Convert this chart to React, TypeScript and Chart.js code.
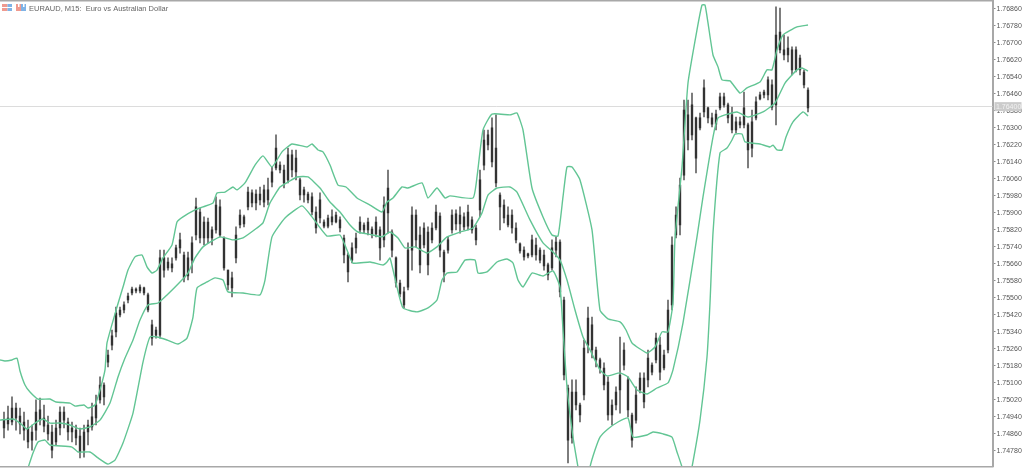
import { useEffect, useRef } from "react";
import { Chart, registerables } from "chart.js";

Chart.register(...registerables);

const POINT = 100000;
const symbolTitle = "EURAUD, M15:  Euro vs Australian Dollar";
const currentPrice = 1.764;
const yTicks = [
  1.7686, 1.7678, 1.767, 1.7662, 1.7654, 1.7646, 1.7638, 1.763, 1.7622, 1.7614, 1.7606, 1.7598, 1.759, 1.7582,
  1.7574, 1.7566, 1.7558, 1.755, 1.7542, 1.7534, 1.7526, 1.7518, 1.751, 1.7502, 1.7494, 1.7486, 1.7478,
];

const highs = [
  174963, 174991, 175034, 175005, 174982, 174963, 174925, 174902, 175020, 175029,
  174996, 174944, 174902, 174925, 174987, 174987, 174935, 174916, 174902, 174888,
  174902, 174925, 175005, 175043, 175128, 175100, 175255, 175349, 175457, 175457,
  175481, 175523, 175551, 175547, 175561, 175551, 175523, 175396, 175363, 175725,
  175725, 175688, 175688, 175749, 175805, 175716, 175716, 175787, 175970, 175923,
  175881, 175876, 175834, 175975, 175961, 175787, 175631, 175622, 175834, 175914,
  175890, 176022, 176008, 176008, 176022, 176031, 176064, 176116, 176267, 176140,
  176125, 176205, 176196, 176196, 176064, 176022, 175998, 175994, 175928, 175994,
  175867, 175890, 175914, 175904, 175881, 175796, 175711, 175759, 175805, 175881,
  175853, 175876, 175834, 175881, 175834, 175975, 176102, 175820, 175693, 175584,
  175551, 175759, 175928, 175914, 175834, 175853, 175834, 175853, 175937, 175900,
  175725, 175787, 175914, 175914, 175928, 175900, 175937, 175881, 175843, 176102,
  176290, 176290, 176347, 176361, 175994, 175961, 175928, 175914, 175853, 175759,
  175740, 175711, 175796, 175782, 175735, 175725, 175664, 175773, 175787, 175773,
  175504, 175090, 175114, 175114, 175005, 175302, 175457, 175410, 175269, 175217,
  175194, 175128, 175020, 175081, 175316, 175288, 175128, 174958, 175081, 175147,
  175147, 175255, 175194, 175335, 175316, 175255, 175490, 175787, 175928, 176064,
  176431, 176431, 176464, 176351, 176370, 176526, 176398, 176370, 176384, 176464,
  176464, 176417, 176398, 176351, 176351, 176469, 176323, 176384, 176446, 176469,
  176478, 176540, 176526, 176869, 176864, 176737, 176728, 176681, 176681, 176643,
  176573, 176488,
];
const lows = [
  174841, 174878, 174902, 174878, 174860, 174831, 174794, 174784, 174831, 174902,
  174869, 174831, 174747, 174808, 174855, 174888, 174831, 174822, 174808, 174747,
  174751, 174808, 174878, 174902, 175005, 174996, 175175, 175255, 175316, 175410,
  175429, 175476, 175514, 175523, 175523, 175514, 175434, 175278, 175311, 175311,
  175598, 175631, 175622, 175678, 175711, 175575, 175584, 175617, 175773, 175759,
  175749, 175759, 175749, 175805, 175787, 175631, 175537, 175504, 175664, 175829,
  175834, 175914, 175928, 175914, 175937, 175928, 175937, 176022, 176102, 176088,
  176017, 176041, 176069, 176055, 175961, 175951, 175947, 175890, 175805, 175853,
  175829, 175829, 175843, 175853, 175810, 175664, 175575, 175664, 175711, 175805,
  175805, 175796, 175782, 175787, 175678, 175740, 175805, 175693, 175551, 175504,
  175453, 175537, 175631, 175740, 175617, 175735, 175608, 175759, 175820, 175693,
  175575, 175711, 175805, 175820, 175805, 175820, 175820, 175805, 175749, 175881,
  176102, 176196, 176116, 176022, 175820, 175853, 175834, 175805, 175759, 175711,
  175678, 175688, 175693, 175678, 175664, 175631, 175584, 175631, 175693, 175504,
  175114, 174723, 174817, 174973, 174916, 175020, 175241, 175217, 175175, 175146,
  175067, 174925, 174902, 174973, 174958, 175161, 174940, 174798, 174911, 175053,
  174982, 175081, 175137, 175194, 175114, 175161, 175241, 175443, 175782, 175796,
  176055, 176196, 176243, 176088, 176290, 176351, 176323, 176304, 176290, 176384,
  176398, 176323, 176276, 176276, 176300, 176300, 176111, 176163, 176337, 176431,
  176441, 176431, 176384, 176314, 176653, 176620, 176610, 176549, 176563, 176549,
  176488, 176375,
];
const opens = [
  174888, 174935, 174916, 174982, 174944, 174916, 174888, 174831, 174878, 174973,
  174935, 174902, 174869, 174822, 174888, 174963, 174916, 174869, 174878, 174850,
  174784, 174869, 174893, 174935, 175020, 175090, 175198, 175278, 175340, 175420,
  175443, 175490, 175523, 175542, 175533, 175547, 175514, 175373, 175325, 175325,
  175688, 175641, 175660, 175688, 175735, 175702, 175603, 175678, 175796, 175904,
  175782, 175857, 175782, 175820, 175928, 175782, 175631, 175547, 175688, 175843,
  175881, 175928, 175994, 175947, 175989, 175951, 176008, 176045, 176111, 176125,
  176102, 176055, 176173, 176093, 176055, 175984, 175989, 175975, 175904, 175876,
  175857, 175838, 175881, 175857, 175867, 175782, 175702, 175678, 175735, 175820,
  175843, 175820, 175824, 175801, 175820, 175773, 176017, 175810, 175688, 175570,
  175528, 175551, 175725, 175890, 175796, 175749, 175810, 175773, 175829, 175885,
  175716, 175725, 175820, 175895, 175848, 175881, 175838, 175867, 175829, 175914,
  176125, 176220, 176300, 176205, 175984, 175937, 175890, 175890, 175829, 175754,
  175725, 175707, 175702, 175749, 175725, 175702, 175655, 175641, 175725, 175763,
  175490, 175076, 174841, 175057, 174996, 175043, 175278, 175373, 175255, 175208,
  175170, 175104, 174949, 174996, 175067, 175255, 175114, 174949, 174925, 175067,
  175123, 175114, 175184, 175208, 175278, 175170, 175255, 175467, 175796, 175843,
  176078, 176361, 176267, 176347, 176300, 176375, 176394, 176347, 176318, 176394,
  176446, 176408, 176361, 176290, 176328, 176314, 176314, 176205, 176347, 176436,
  176455, 176455, 176502, 176408, 176751, 176667, 176643, 176667, 176573, 176629,
  176563, 176478,
];
const closes = [
  174925, 174907, 174982, 174935, 174907, 174878, 174822, 174869, 174963, 174925,
  174897, 174860, 174784, 174888, 174963, 174925, 174869, 174888, 174841, 174775,
  174869, 174902, 174940, 174996, 175090, 175034, 175231, 175321, 175429, 175443,
  175467, 175509, 175542, 175533, 175551, 175523, 175443, 175311, 175349, 175688,
  175631, 175669, 175641, 175735, 175773, 175594, 175688, 175759, 175928, 175782,
  175857, 175782, 175820, 175937, 175796, 175641, 175561, 175594, 175796, 175890,
  175848, 175998, 175947, 175989, 175961, 176008, 175961, 176093, 176205, 176102,
  176041, 176173, 176102, 176158, 175984, 176008, 175961, 175904, 175829, 175961,
  175838, 175876, 175857, 175890, 175829, 175702, 175622, 175735, 175782, 175857,
  175820, 175857, 175801, 175857, 175735, 175937, 175900, 175725, 175570, 175519,
  175467, 175725, 175890, 175773, 175655, 175829, 175655, 175829, 175904, 175725,
  175622, 175773, 175890, 175848, 175890, 175834, 175904, 175820, 175773, 176055,
  176243, 176267, 176140, 176041, 175928, 175876, 175843, 175829, 175773, 175721,
  175693, 175697, 175773, 175702, 175678, 175650, 175608, 175735, 175763, 175528,
  175137, 174831, 175057, 174996, 174949, 175264, 175405, 175255, 175208, 175170,
  175090, 174949, 174996, 175057, 175137, 175184, 174973, 174831, 175043, 175123,
  175010, 175217, 175151, 175311, 175151, 175231, 175443, 175749, 175890, 176031,
  176384, 176243, 176408, 176158, 176347, 176488, 176347, 176318, 176365, 176446,
  176408, 176347, 176290, 176328, 176314, 176394, 176196, 176328, 176422, 176455,
  176469, 176526, 176398, 176737, 176667, 176643, 176676, 176573, 176667, 176573,
  176502, 176394,
];

const upperBand: number[][] = [
  [-1, 175208], [0.25, 175203], [2, 175208], [3.25, 175217], [4, 175156], [5.25, 175090], [6.5, 175057], [8.5, 175024],
  [11.5, 175024], [13, 175010], [16.5, 175005], [17.75, 174991], [20, 174996], [21, 174982], [22.75, 174996], [24, 175067],
  [25.25, 175161], [25.75, 175288], [28.25, 175457], [29.75, 175551], [31, 175631], [32.75, 175693], [34.5, 175702],
  [35.75, 175646], [37, 175617], [38.25, 175631], [39.75, 175688], [42, 175749], [43.25, 175857], [44.75, 175881],
  [47.75, 175914], [49.75, 175928], [52.25, 175947], [53.25, 175994], [55.25, 175998], [57.25, 176022], [58.25, 176008],
  [60.25, 176041], [62.75, 176125], [64.75, 176168], [67, 176116], [69.5, 176187], [72, 176224], [75.75, 176210], [77, 176224],
  [78.5, 176196], [79.75, 176187], [81.5, 176125], [83.5, 176031], [85.5, 176022], [88.25, 175970], [91.5, 175937],
  [94.5, 175904], [95.75, 175951], [97.25, 175970], [99.5, 176022], [101, 176017], [104.5, 176041], [106, 175970],
  [108.25, 176017], [110.25, 175970], [111.5, 175980], [117.25, 175970], [118.25, 176069], [119.75, 176290], [122, 176365],
  [126.5, 176361], [128.25, 176370], [129.75, 176290], [132, 176017], [134.75, 175881], [137, 175796], [138.5, 175791],
  [139.75, 175975], [140.75, 176116], [142, 176116], [144, 176055], [147, 175820], [149, 175443], [151, 175401], [154, 175387],
  [155.5, 175349], [157, 175288], [160.75, 175241], [162.75, 175269], [164.5, 175340], [166, 175340], [167.25, 175476],
  [167.75, 175782], [169.5, 176116], [171, 176511], [173.25, 176761], [174.5, 176878], [175.25, 176878], [176, 176794],
  [177.25, 176643], [178.5, 176587], [179.5, 176526], [181.5, 176521], [184, 176464], [185.75, 176488], [189, 176516],
  [190.75, 176573], [192, 176573], [193.25, 176667], [194.75, 176737], [198.25, 176775], [201, 176784],
];
const middleBand: number[][] = [
  [-1, 174925], [2.25, 174930], [4, 174911], [5.75, 174883], [7.75, 174911], [9.75, 174930], [11.5, 174911], [14, 174911],
  [16.5, 174902], [19, 174883], [21.5, 174893], [24, 174925], [26.5, 175005], [28.5, 175128], [30.25, 175217], [32.25, 175302],
  [34, 175396], [36, 175467], [38.5, 175476], [40.75, 175514], [44, 175575], [46, 175617], [47.75, 175688], [49.75, 175740],
  [54, 175787], [57.25, 175773], [59.75, 175782], [63.25, 175829], [64.75, 175853], [66.5, 175947], [69, 176022], [71, 176045],
  [73.25, 176069], [76, 176069], [79, 176017], [81.5, 175951], [84, 175904], [86.5, 175843], [88.5, 175810], [92.25, 175796],
  [94.5, 175787], [96.5, 175810], [98.5, 175782], [100.25, 175735], [102.75, 175740], [105.75, 175711], [108.25, 175740],
  [110.75, 175787], [114, 175810], [117.25, 175829], [119.5, 175900], [121, 175984], [123.25, 176017], [126.5, 176022],
  [128.25, 175998], [131.5, 175867], [134.75, 175759], [137.25, 175716], [139, 175678], [140.75, 175584], [142.75, 175443],
  [144.75, 175316], [146.5, 175255], [149, 175161], [150.75, 175133], [154, 175147], [156, 175128], [158.25, 175067],
  [160.75, 175048], [163.25, 175076], [166, 175100], [167.25, 175161], [169.75, 175382], [173.25, 175787], [174.75, 175975],
  [177.25, 176257], [178.5, 176347], [180.25, 176361], [183.25, 176375], [186, 176351], [189.75, 176375], [192.75, 176417],
  [195.25, 176511], [198.25, 176573], [199.5, 176582], [201, 176568],
];
const lowerBand: number[][] = [
  [6, 174700], [7.25, 174770], [8.5, 174822], [10.25, 174831], [11.5, 174808], [17, 174798], [18.5, 174775], [21.5, 174775],
  [23.5, 174747], [26, 174718], [27.75, 174737], [29.75, 174817], [32.25, 174958], [34.75, 175198], [36.5, 175316],
  [38.25, 175316], [40.75, 175302], [43.5, 175283], [45.75, 175311], [47.25, 175410], [48.25, 175547], [50.75, 175575],
  [52.75, 175594], [54.75, 175584], [56, 175528], [59.75, 175523], [64, 175514], [65.25, 175584], [67, 175787], [70.25, 175876],
  [74.5, 175933], [77, 175881], [80.75, 175791], [84, 175796], [85.75, 175725], [87.25, 175664], [91.5, 175669], [94.75, 175655],
  [95.75, 175669], [96.5, 175688], [98.25, 175551], [99.75, 175453], [103.25, 175434], [106, 175453], [108.25, 175490],
  [109.5, 175584], [110.75, 175617], [113.25, 175622], [115.25, 175678], [117.75, 175678], [118.5, 175617], [120.75, 175622],
  [123.25, 175669], [125.75, 175683], [127.25, 175664], [128.5, 175584], [129.75, 175551], [132, 175617], [134.75, 175603],
  [137.25, 175627], [139, 175551], [139.75, 175349], [140.75, 175081], [142.25, 174845], [143.5, 174704], [145, 174549],
  [146.5, 174704], [147.75, 174784], [149, 174845], [151, 174883], [153.5, 174916], [156, 174935], [157.25, 174845],
  [160.75, 174855], [162.25, 174869], [164.75, 174860], [167, 174845], [168.25, 174775], [169.5, 174704], [170.75, 174596],
  [172, 174704], [174, 174925], [175.75, 175222], [176.5, 175476], [177.25, 175805], [179, 176182], [180.75, 176205],
  [182, 176243], [182.75, 176271], [184.5, 176271], [185.25, 176234], [189, 176224], [191.5, 176210], [192.25, 176219],
  [193.25, 176196], [194.5, 176196], [195.5, 176257], [197.25, 176328], [199.75, 176375], [201, 176356],
];

const GREEN = "#62c594";
const bandData = (band: number[][]) => band.map(([x, v]) => ({ x, y: v / POINT }));
const bandSet = (band: number[][]) => ({
  type: "line" as const,
  data: bandData(band),
  borderColor: GREEN,
  borderWidth: 1.4,
  pointRadius: 0,
  tension: 0.15,
  order: 0,
});

const framePlugin = {
  id: "frame",
  beforeDatasetsDraw(chart: any) {
    const { ctx, chartArea, scales } = chart;
    const y = Math.floor(scales.y.getPixelForValue(currentPrice)) + 0.5;
    ctx.save();
    ctx.strokeStyle = "#dcdcdc";
    ctx.lineWidth = 1;
    ctx.beginPath();
    ctx.moveTo(0, y);
    ctx.lineTo(chartArea.right, y);
    ctx.stroke();
    ctx.restore();
  },
  afterDraw(chart: any) {
    const { ctx, chartArea, scales } = chart;
    const y = scales.y.getPixelForValue(currentPrice);
    ctx.save();
    ctx.fillStyle = "#a8a8a8";
    ctx.fillRect(0, 0, chartArea.right + 1, 1.5);
    ctx.fillRect(0, chartArea.bottom, chartArea.right + 1, 1.5);
    ctx.fillStyle = "#cbcbcb";
    ctx.fillRect(chartArea.right + 2, y - 4.5, 27, 9);
    ctx.fillStyle = "#f2f2f2";
    ctx.font = "7px 'Liberation Sans'";
    ctx.textBaseline = "middle";
    ctx.fillText(currentPrice.toFixed(5), chartArea.right + 3.5, y + 0.5);
    // toolbar glyphs
    ctx.fillStyle = "#ef9a8f";
    ctx.fillRect(2, 4, 5.5, 7);
    ctx.fillRect(16, 4, 5, 7);
    ctx.fillStyle = "#7fb3e6";
    ctx.fillRect(7.5, 4, 4.5, 7);
    ctx.fillRect(21, 4, 5, 7);
    ctx.fillStyle = "#ffffff";
    ctx.fillRect(2, 7, 10, 1);
    ctx.fillRect(18, 4, 1.5, 3);
    ctx.fillRect(23, 4, 1.5, 3);
    ctx.fillStyle = "#666666";
    ctx.font = "7.5px 'Liberation Sans'";
    ctx.fillText(symbolTitle, 29, 8.5);
    ctx.restore();
  },
};

export default function App() {
  const ref = useRef<HTMLCanvasElement>(null);
  useEffect(() => {
    document.body.style.margin = "0";
    const index = highs.map((_, i) => i);
    const chart = new Chart(ref.current as HTMLCanvasElement, {
      type: "bar",
      data: {
        datasets: [
          bandSet(upperBand),
          bandSet(middleBand),
          bandSet(lowerBand),
          {
            data: index.map((i) => ({ x: i, y: [opens[i] / POINT, closes[i] / POINT] })),
            backgroundColor: "#333333",
            barThickness: 1.7,
            grouped: false,
            order: 1,
          },
          {
            data: index.map((i) => ({ x: i, y: [lows[i] / POINT, highs[i] / POINT] })),
            backgroundColor: "#747474",
            barThickness: 1.2,
            grouped: false,
            order: 2,
          },
        ] as any,
      },
      options: {
        responsive: false,
        animation: false,
        layout: { padding: { top: 1, bottom: 2, left: 0, right: 0 } },
        plugins: { legend: { display: false }, tooltip: { enabled: false }, title: { display: false } },
        scales: {
          x: { type: "linear", display: false, min: -1, max: 247.125, offset: false },
          y: {
            position: "right",
            min: 1.74709,
            max: 1.76897,
            afterFit(scale: any) {
              scale.width = 31.5;
              scale.paddingTop = 0;
              scale.paddingBottom = 0;
            },
            afterBuildTicks(scale: any) {
              scale.ticks = yTicks.map((value) => ({ value }));
            },
            grid: { drawOnChartArea: false, drawTicks: true, tickLength: 3, color: "#8c8c8c" },
            border: { color: "#a8a8a8", width: 2 },
            ticks: {
              autoSkip: false,
              padding: 1,
              color: "#555555",
              font: { family: "'Liberation Sans'", size: 7 },
              callback: (v: any) => Number(v).toFixed(5),
            },
          },
        },
      } as any,
      plugins: [framePlugin],
    });
    return () => chart.destroy();
  }, []);
  return (
    <canvas
      ref={ref}
      width={1024}
      height={468}
      style={{ display: "block", width: 1024, height: 468, background: "#fff", filter: "blur(0.5px)" }}
    />
  );
}
